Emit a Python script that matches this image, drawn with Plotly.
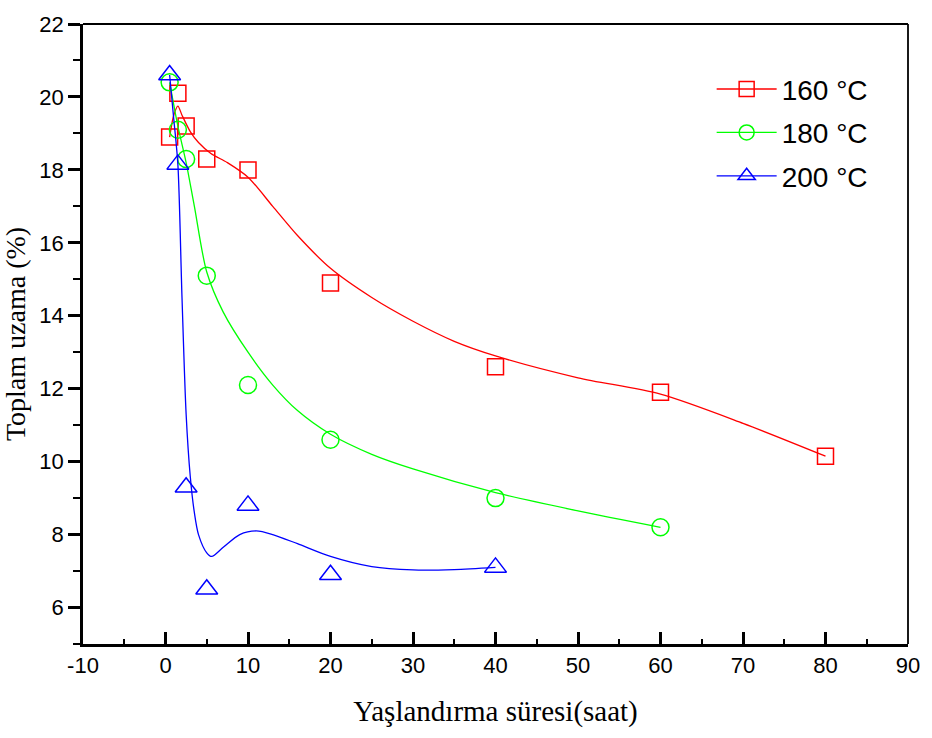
import plotly.graph_objects as go

# Measured data (aging time in hours, total elongation %)
t160 = [0.5, 1.5, 2.5, 5, 10, 20, 40, 60, 80]
e160 = [18.9, 20.1, 19.2, 18.3, 18.0, 14.9, 12.6, 11.9, 10.15]
t180 = [0.5, 1.5, 2.5, 5, 10, 20, 40, 60]
e180 = [20.4, 19.1, 18.3, 15.1, 12.1, 10.6, 9.0, 8.2]
t200 = [0.5, 1.5, 2.5, 5, 10, 20, 40]
e200 = [20.6, 18.15, 9.3, 6.5, 8.8, 6.9, 7.1]

# Fitted curves
fx160 = [0.5, 1.0, 1.5, 2.0, 3.0, 4.0, 5.5, 7.5, 10, 13, 16, 20, 25, 30, 35, 40, 50, 60, 70, 80]
fy160 = [18.9, 19.5, 19.75, 19.5, 19.05, 18.75, 18.45, 18.2, 17.8, 17.0, 16.2, 15.3, 14.5, 13.85, 13.3, 12.9, 12.3, 11.85, 11.05, 10.15]
fx180 = [0.5, 1.5, 2.5, 3.5, 5, 7, 10, 13, 16, 20, 25, 30, 40, 50, 60]
fy180 = [20.4, 19.2, 18.2, 17.0, 15.2, 14.1, 13.0, 12.1, 11.4, 10.75, 10.2, 9.8, 9.15, 8.65, 8.2]
fx200 = [0.5, 1.0, 1.5, 2.0, 2.5, 3.0, 3.5, 4.0, 5.0, 5.6, 7, 9, 11, 13, 16, 20, 25, 30, 35, 40]
fy200 = [20.6, 19.4, 18.15, 14.5, 11.3, 9.6, 8.6, 8.0, 7.5, 7.4, 7.65, 8.0, 8.1, 8.0, 7.75, 7.4, 7.12, 7.03, 7.04, 7.1]

x_ticks = [-10, 0, 10, 20, 30, 40, 50, 60, 70, 80, 90]
x_labels = ["-10", "0", "10", "20", "30", "40", "50", "60", "70", "80", "90"]
y_ticks = [6, 8, 10, 12, 14, 16, 18, 20, 22]
y_labels = ["6", "8", "10", "12", "14", "16", "18", "20", "22"]

names = ["160 °C", "180 °C", "200 °C"]
colors = ["#FF0000", "#00FF00", "#0000FF"]
symbols = ["square-open", "circle-open", "triangle-up-open"]
sizes = [16, 17, 19]

fig = go.Figure()
series = [(t160, e160, fx160, fy160), (t180, e180, fx180, fy180), (t200, e200, fx200, fy200)]
for i, (tx, ty, fx, fy) in enumerate(series):
    fig.add_trace(go.Scatter(x=fx, y=fy, mode="lines", line=dict(color=colors[i], width=1.3, shape="spline", smoothing=0.8),
                             showlegend=False, hoverinfo="skip"))
    fig.add_trace(go.Scatter(x=tx, y=ty, mode="markers",
                             marker=dict(symbol=symbols[i], size=sizes[i], color=colors[i], line=dict(width=1.5, color=colors[i])),
                             showlegend=False))
    fig.add_trace(go.Scatter(x=[None], y=[None], mode="lines+markers", name=names[i], legendgroup=names[i],
                             line=dict(color=colors[i], width=1.3),
                             marker=dict(symbol=symbols[i], size=15, color=colors[i], line=dict(width=1.5, color=colors[i]))))

# thinner top and right frame lines
fig.add_shape(type="line", xref="paper", yref="paper", x0=0, x1=1, y0=1, y1=1, line=dict(color="black", width=1.8))
fig.add_shape(type="line", xref="paper", yref="paper", x0=1, x1=1, y0=0, y1=1, line=dict(color="black", width=1.8))

fig.update_layout(
    width=932, height=738,
    margin=dict(l=82, r=19, t=21, b=94),
    plot_bgcolor="white", paper_bgcolor="white",
    font=dict(family="Liberation Sans, Arial", color="black"),
    legend=dict(x=0.762, y=0.935, xanchor="left", yanchor="top", bgcolor="rgba(0,0,0,0)",
                font=dict(size=28, family="Liberation Sans, Arial"), tracegroupgap=4, itemwidth=60),
    xaxis=dict(range=[-10, 90], tickvals=x_ticks, ticktext=x_labels, ticks="inside", ticklen=12, tickwidth=2.5, tickcolor="black",
               minor=dict(dtick=5, tick0=0, ticks="inside", ticklen=5, tickwidth=2, tickcolor="black"),
               showline=True, linewidth=2.8, linecolor="black", mirror=False, showgrid=False, zeroline=False,
               tickfont=dict(size=22, family="Liberation Sans, Arial"),
               title=dict(text="Yaşlandırma süresi(saat)", font=dict(size=29, family="Liberation Serif, Times New Roman"), standoff=24)),
    yaxis=dict(range=[5, 22], tickvals=y_ticks, ticktext=y_labels, ticks="outside", ticklen=12, tickwidth=2.5, tickcolor="black",
               minor=dict(dtick=1, tick0=0, ticks="outside", ticklen=7, tickwidth=2, tickcolor="black"),
               showline=True, linewidth=2.8, linecolor="black", mirror=False, showgrid=False, zeroline=False,
               tickfont=dict(size=22, family="Liberation Sans, Arial"),
               title=dict(text="Toplam uzama (%)", font=dict(size=28, family="Liberation Serif, Times New Roman"), standoff=8)),
)

fig.write_html("out.html")
